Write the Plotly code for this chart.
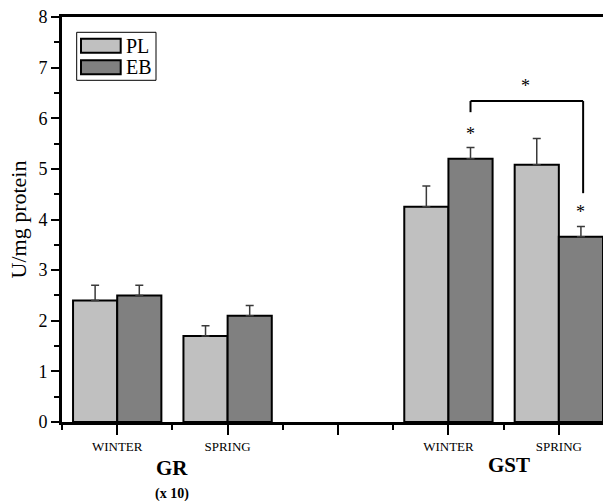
import plotly.graph_objects as go

# ---- data ----
positions = [1, 2, 4, 5]
tick_vals = [1, 2, 3, 4, 5]
tick_text = ["WINTER", "SPRING", "", "WINTER", "SPRING"]
pl_values = [2.40, 1.70, 4.25, 5.08]
pl_errors = [0.30, 0.20, 0.41, 0.52]
eb_values = [2.50, 2.10, 5.20, 3.66]
eb_errors = [0.20, 0.20, 0.22, 0.20]
series_names = ["PL", "EB"]

FONT = "Liberation Serif, Times New Roman, serif"
PL_COLOR = "#c0c0c0"
EB_COLOR = "#808080"

fig = go.Figure()
for name, vals, errs, col in [(series_names[0], pl_values, pl_errors, PL_COLOR),
                              (series_names[1], eb_values, eb_errors, EB_COLOR)]:
    fig.add_trace(go.Bar(
        x=positions, y=vals, name=name,
        marker=dict(color=col, line=dict(color="black", width=2)),
        error_y=dict(type="data", symmetric=False, array=errs,
                     arrayminus=[0] * len(errs), color="#3a3a3a",
                     thickness=1.5, width=4),
        showlegend=False, hoverinfo="skip",
    ))

fig.update_layout(
    width=604, height=501,
    margin=dict(l=62, r=1, t=17, b=79, autoexpand=False),
    paper_bgcolor="white", plot_bgcolor="white",
    barmode="group", bargap=0.2, bargroupgap=0,
    font=dict(family=FONT, color="black"),
)

fig.update_xaxes(
    range=[0.5, 5.4], tickvals=tick_vals, ticktext=tick_text,
    ticks="outside", ticklen=10, tickwidth=2, tickcolor="black",
    minor=dict(tick0=0.5, dtick=1, ticks="outside", ticklen=5, tickwidth=2, tickcolor="black"),
    showline=True, linecolor="black", linewidth=3, mirror=True,
    showgrid=False, zeroline=False, automargin=False,
    tickfont=dict(size=13, family=FONT),
)
fig.update_yaxes(
    range=[0, 8], dtick=1, tick0=0,
    ticks="outside", ticklen=8, tickwidth=2, tickcolor="black",
    minor=dict(dtick=0.5, ticks="outside", ticklen=5, tickwidth=2, tickcolor="black"),
    showline=True, linecolor="black", linewidth=3,
    showgrid=False, zeroline=False, automargin=False,
    tickfont=dict(size=18, family=FONT),
    title=dict(text="U/mg protein", font=dict(size=22, family=FONT), standoff=6),
)

# significance marks
star_font = dict(size=18, family=FONT, color="black")
for sx, sy in [(4.2, 5.68), (5.2, 4.14), (4.7, 6.63)]:
    fig.add_annotation(x=sx, y=sy, text="*", showarrow=False, font=star_font)
line = dict(color="black", width=2)
fig.add_shape(type="line", x0=4.2, x1=5.22, y0=6.34, y1=6.34, line=line)
fig.add_shape(type="line", x0=4.2, x1=4.2, y0=6.34, y1=6.12, line=line)
fig.add_shape(type="line", x0=5.22, x1=5.22, y0=6.34, y1=4.52, line=line)

# group labels
fig.add_annotation(x=1.5, y=0, yref="y", text="<b>GR</b>", showarrow=False,
                   yshift=-46, font=dict(size=21, family=FONT))
fig.add_annotation(x=1.5, y=0, yref="y", text="<b>(x 10)</b>", showarrow=False,
                   yshift=-72, font=dict(size=14, family=FONT))
fig.add_annotation(x=4.55, y=0, yref="y", text="<b>GST</b>", showarrow=False,
                   yshift=-43, font=dict(size=21, family=FONT))

# legend (drawn manually)
fig.add_shape(type="rect", xref="paper", yref="paper",
              x0=(76.7 - 62) / 541, x1=(156 - 62) / 541,
              y0=(422 - 80.3) / 405, y1=(422 - 32.3) / 405,
              line=dict(color="black", width=1), fillcolor="white")
for i, (name, col) in enumerate(zip(series_names, [PL_COLOR, EB_COLOR])):
    top = 38.7 + i * 21.5
    fig.add_shape(type="rect", xref="paper", yref="paper",
                  x0=(81 - 62) / 541, x1=(120.7 - 62) / 541,
                  y0=(422 - (top + 14)) / 405, y1=(422 - top) / 405,
                  line=dict(color="black", width=2), fillcolor=col)
    fig.add_annotation(xref="paper", yref="paper", x=(124 - 62) / 541,
                       y=(422 - (top + 7)) / 405, text=name, showarrow=False,
                       xanchor="left", yanchor="middle",
                       font=dict(size=20, family=FONT))

fig.write_html("out.html", config={"displayModeBar": False},
               post_script="document.body.style.margin='0px';document.body.style.overflow='hidden';")
